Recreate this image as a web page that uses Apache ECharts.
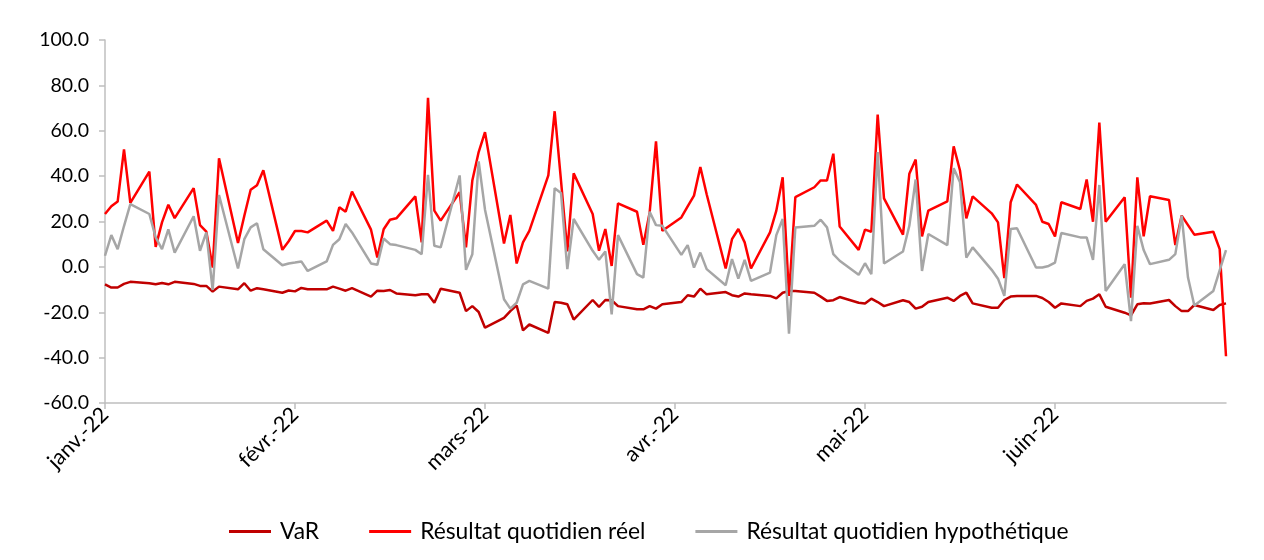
<!DOCTYPE html>
<html>
<head>
<meta charset="utf-8">
<script src="https://cdn.jsdelivr.net/npm/echarts@6/dist/echarts.min.js"></script>
<style>
  html, body { margin: 0; padding: 0; background: #fff; }
  #chart { width: 1264px; height: 560px; }
</style>
</head>
<body>
<div id="chart"></div>
<script>
// Trading days, first half of 2022
const dates = [
  '2022-01-03','2022-01-04','2022-01-05','2022-01-06','2022-01-07','2022-01-10','2022-01-11','2022-01-12','2022-01-13','2022-01-14',
  '2022-01-17','2022-01-18','2022-01-19','2022-01-20','2022-01-21','2022-01-24','2022-01-25','2022-01-26','2022-01-27','2022-01-28','2022-01-31',
  '2022-02-01','2022-02-02','2022-02-03','2022-02-04','2022-02-07','2022-02-08','2022-02-09','2022-02-10','2022-02-11',
  '2022-02-14','2022-02-15','2022-02-16','2022-02-17','2022-02-18','2022-02-21','2022-02-22','2022-02-23','2022-02-24','2022-02-25','2022-02-28',
  '2022-03-01','2022-03-02','2022-03-03','2022-03-04','2022-03-07','2022-03-08','2022-03-09','2022-03-10','2022-03-11',
  '2022-03-14','2022-03-15','2022-03-16','2022-03-17','2022-03-18','2022-03-21','2022-03-22','2022-03-23','2022-03-24','2022-03-25',
  '2022-03-28','2022-03-29','2022-03-30','2022-03-31',
  '2022-04-01','2022-04-04','2022-04-05','2022-04-06','2022-04-07','2022-04-08','2022-04-11','2022-04-12','2022-04-13','2022-04-14','2022-04-15',
  '2022-04-18','2022-04-19','2022-04-20','2022-04-21','2022-04-22','2022-04-25','2022-04-26','2022-04-27','2022-04-28','2022-04-29',
  '2022-05-02','2022-05-03','2022-05-04','2022-05-05','2022-05-06','2022-05-09','2022-05-10','2022-05-11','2022-05-12','2022-05-13',
  '2022-05-16','2022-05-17','2022-05-18','2022-05-19','2022-05-20','2022-05-23','2022-05-24','2022-05-25','2022-05-26','2022-05-27',
  '2022-05-30','2022-05-31',
  '2022-06-01','2022-06-02','2022-06-03','2022-06-06','2022-06-07','2022-06-08','2022-06-09','2022-06-10','2022-06-13','2022-06-14',
  '2022-06-15','2022-06-16','2022-06-17','2022-06-20','2022-06-21','2022-06-22','2022-06-23','2022-06-24','2022-06-27','2022-06-28','2022-06-29'
];

// VaR
const varValues = [
  -7.7, -9.1, -9.1, -7.5, -6.6, -7.2, -7.7, -7.1, -7.7, -6.6, -7.5, -8.4, -8.4, -10.9, -8.7, -9.9, -7.2, -10.5, -9.4, -9.9, -11.4,
  -10.4, -10.8, -9.3, -9.9, -9.9, -8.7, -9.6, -10.5, -9.4, -13.1, -10.5, -10.6, -10.2, -11.7, -12.5, -12.1, -12.1, -15.8, -9.6, -11.4,
  -19.5, -17.3, -19.9, -26.8, -22.5, -19.5, -17, -28, -25.4, -29.1, -15.5, -15.8, -16.5, -23.2, -14.6, -17.6, -14.6, -14.7, -17.3, -18.7, -18.7, -17.3, -18.4,
  -16.5, -15.5, -12.5, -13.1, -9.6, -12.1, -11.1, -12.5, -13.1, -11.7, -12.1, -12.8, -13.9, -11.4, -10.6, -10.6, -11.4, -13.1, -15, -14.7, -13.3,
  -15.8, -16.1, -14, -15.5, -17.3, -14.7, -15.5, -18.4, -17.6, -15.5, -13.6, -15, -12.8, -11.4, -16.1, -18, -18, -14.6, -13.1, -12.8, -12.8, -13.7,
  -15.5, -18, -16.1, -17.3, -15, -14, -12.1, -17.6, -20.2, -21.4, -16.5, -16, -16.1, -14.6, -17.3, -19.5, -19.5, -16.8, -19, -16.8, -16.1
];

// Résultat quotidien réel
const reelValues = [
  23.3, 26.7, 28.8, 51.8, 28.2, 42, 8.8, 19.6, 27.4, 21.5, 34.7, 18.4, 15.5, -0.3, 47.9, 10.5, 22.5, 34, 36, 42.6, 7.5,
  11.3, 15.8, 15.8, 15.2, 20.4, 15.9, 26.3, 24.3, 33.2, 16.4, 4.1, 16.6, 20.8, 21.4, 31.1, 10.8, 74.5, 24.8, 20.4, 32.9,
  8.6, 38.1, 50.6, 59.4, 10.3, 22.9, 1.5, 10.8, 15.9, 40.3, 68.6, 38, 6.8, 41.2, 23.3, 7.1, 16.7, 0.4, 28, 24.3, 9.7, 24, 55.3,
  15.9, 21.8, 26.7, 31.4, 44, 32, -0.7, 12.2, 16.7, 10.8, -0.7, 15.2, 24.8, 39.5, -12.8, 30.7, 35.1, 38.1, 38.1, 49.9, 17.8,
  7.5, 16.4, 15.5, 67.1, 30.2, 14.2, 41, 47.3, 13.4, 24.8, 28.9, 53.1, 42.5, 21.4, 31.1, 23.6, 19.6, -5, 28.5, 36.3, 27.3, 19.9,
  18.9, 13.4, 28.5, 25.5, 38.5, 19.9, 63.6, 19.9, 30.7, -13.6, 39.5, 13.5, 31.1, 29.5, 9.6, 22.6, 18.4, 14.2, 15.5, 7.8, -39.4
];

// Résultat quotidien hypothétique
const hypoValues = [
  4.9, 14, 7.8, 18, 27.7, 23.3, 13, 7.8, 16.5, 6.3, 22.3, 7.1, 15.2, -10.2, 31.7, -0.7, 12.2, 17.4, 19.2, 7.8, 0.7,
  1.5, 1.9, 2.4, -1.8, 2.4, 9.7, 12.2, 18.9, 15.2, 1.5, 0.9, 12.5, 10, 9.6, 7.5, 5.6, 40.6, 9.3, 8.6, 40.3,
  -1.3, 5.6, 46.5, 25.2, -14.3, -18.4, -15.8, -7.7, -6.2, -9.6, 34.7, 32.6, -1, 21.1, 7.1, 3.1, 6.8, -20.9, 14, -3.2, -4.7, 24.3, 18.4,
  18.1, 5.3, 9.6, -0.3, 6.3, -1, -8.1, 3.4, -5.2, 3.1, -6.2, -2.5, 14, 21.1, -29.4, 17.4, 18.1, 20.8, 17.4, 5.6, 2.7,
  -3.5, 1.6, -3.2, 50.6, 1.5, 6.8, 18.1, 38.5, -1.8, 14.5, 9.6, 43.5, 37.3, 4.1, 8.6, -1.3, -5.2, -12.8, 16.7, 17, -0.3, -0.3,
  0.4, 1.9, 14.9, 13, 13, 3.1, 36.1, -10.6, 1.2, -23.9, 18.1, 7.4, 1.2, 3.1, 5.6, 22.6, -4.7, -17, -10.6, -1.5, 7.4
];

// Date-axis labels, one every 30 days from the first trading day
const tickLabels = ['janv.-22', 'févr.-22', 'mars-22', 'avr.-22', 'mai-22', 'juin-22'];
const tickStepDays = 30;

const DAY = 86400000;
const t0 = Date.parse(dates[0]);
const dayOffset = d => Math.round((Date.parse(d) - t0) / DAY);
const lastDay = dayOffset(dates[dates.length - 1]);
const pairs = vals => dates.map((d, i) => [dayOffset(d), vals[i]]);

const FONT = 'Lato, "Open Sans", sans-serif';

const chart = echarts.init(document.getElementById('chart'), null, { renderer: 'canvas' });

const lineSeries = (name, vals, color) => ({
  name,
  type: 'line',
  data: pairs(vals),
  symbol: 'none',
  smooth: false,
  lineStyle: { color, width: 2.5 },
  itemStyle: { color },
  emphasis: { disabled: true }
});

chart.setOption({
  animation: false,
  backgroundColor: '#ffffff',
  textStyle: { fontFamily: FONT },
  grid: { left: 105, right: 38, top: 40, bottom: 157, containLabel: false },
  xAxis: {
    type: 'value',
    min: 0,
    max: lastDay,
    interval: tickStepDays,
    axisLine: { show: true, onZero: false, lineStyle: { color: '#bfbfbf', width: 1.5 } },
    axisTick: { show: true, length: 6, lineStyle: { color: '#bfbfbf', width: 1.5 } },
    splitLine: { show: false },
    axisLabel: {
      rotate: 45,
      fontSize: 21.5,
      color: '#000',
      fontFamily: FONT,
      margin: 8,
      showMaxLabel: false,
      formatter: v => (v % tickStepDays === 0 ? (tickLabels[v / tickStepDays] || '') : '')
    }
  },
  yAxis: {
    type: 'value',
    min: -60,
    max: 100,
    interval: 20,
    axisLine: { show: true, lineStyle: { color: '#bfbfbf', width: 1.5 } },
    axisTick: { show: true, length: 6, lineStyle: { color: '#bfbfbf', width: 1.5 } },
    splitLine: { show: false },
    axisLabel: {
      fontSize: 19.5,
      color: '#000',
      fontFamily: FONT,
      margin: 16,
      formatter: v => v.toFixed(1)
    }
  },
  legend: {
    left: 224,
    top: 515,
    itemWidth: 42,
    itemHeight: 3,
    itemGap: 50,
    textStyle: { fontSize: 22.8, color: '#000', fontFamily: FONT, padding: [0, 0, 0, 4] },
    data: [
      { name: 'VaR', icon: 'rect' },
      { name: 'Résultat quotidien réel', icon: 'rect' },
      { name: 'Résultat quotidien hypothétique', icon: 'rect' }
    ]
  },
  series: [
    lineSeries('VaR', varValues, '#C00000'),
    lineSeries('Résultat quotidien réel', reelValues, '#FF0000'),
    lineSeries('Résultat quotidien hypothétique', hypoValues, '#A6A6A6')
  ]
});
</script>
</body>
</html>
